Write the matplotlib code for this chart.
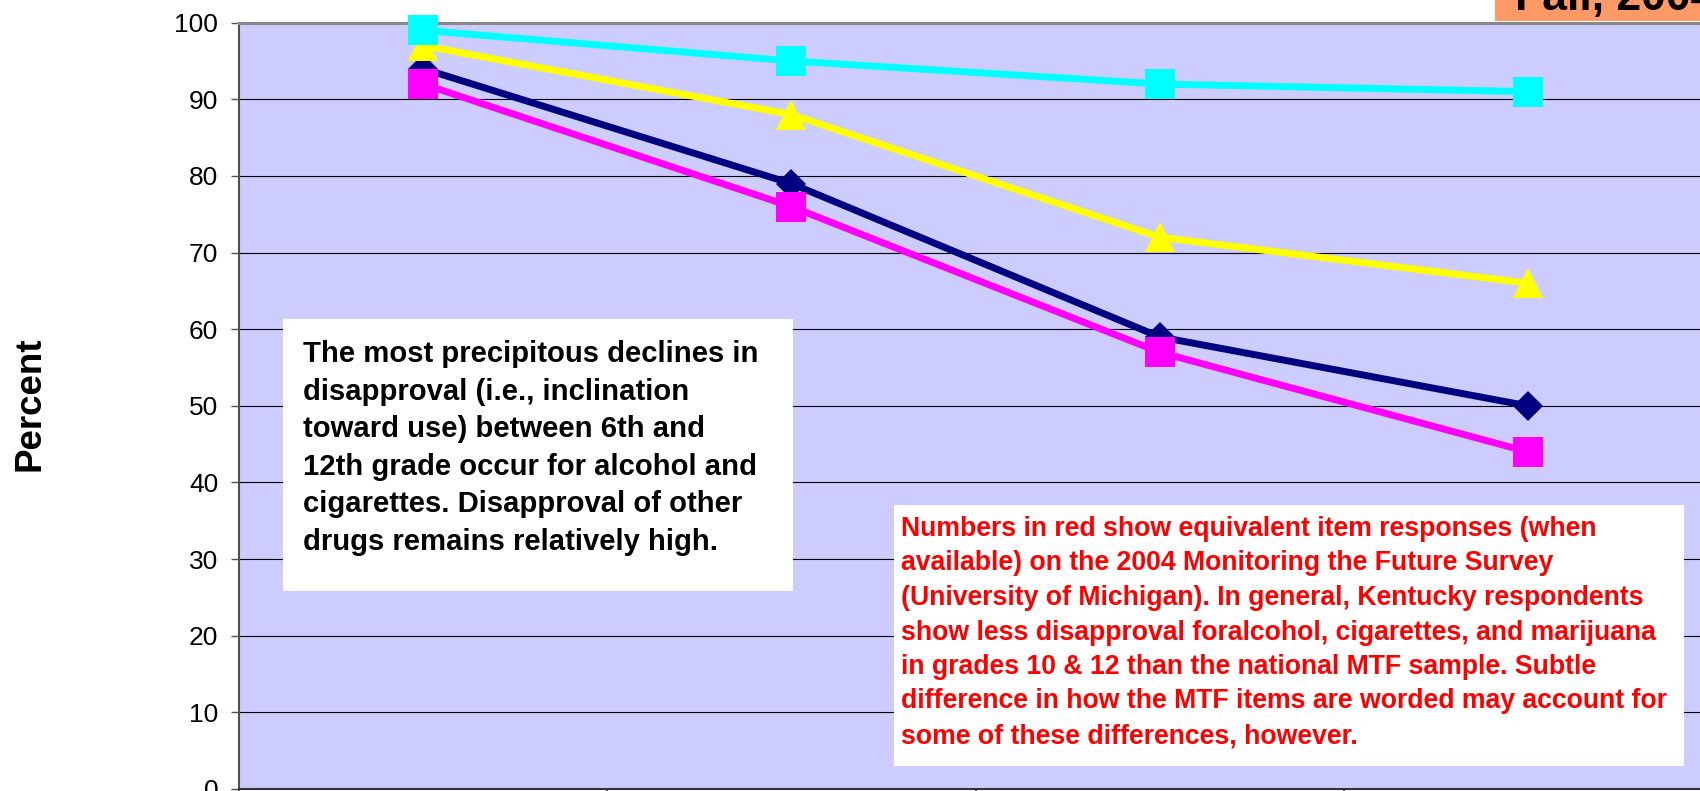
import numpy as np
import matplotlib
matplotlib.use('Agg')
from matplotlib import pyplot as plt
from matplotlib.patches import Rectangle

plt.rcParams['font.family'] = ['Liberation Sans', 'DejaVu Sans']

# disapproval (%) by grade, one list per line of the chart
grades = ['6th', '8th', '10th', '12th']
alcohol = [94, 79, 59, 50]
cigarettes = [92, 76, 57, 44]
marijuana = [97, 88, 72, 66]
other_drugs = [99, 95, 92, 91]
y_ticks = list(range(0, 101, 10))

note_black = ['The most precipitous declines in',
              'disapproval (i.e., inclination',
              'toward use) between 6th and',
              '12th grade occur for alcohol and',
              'cigarettes. Disapproval of other',
              'drugs remains relatively high.']
note_red = ['Numbers in red show equivalent item responses (when',
            'available) on the 2004 Monitoring the Future Survey',
            '(University of Michigan). In general, Kentucky respondents',
            'show less disapproval foralcohol, cigarettes, and marijuana',
            'in grades 10 & 12 than the national MTF sample. Subtle',
            'difference in how the MTF items are worded may account for',
            'some of these differences, however.']

W, H = 1700, 791


def fx(x):
    return x / W


def fy(y):
    return 1 - y / H


fig = plt.figure(figsize=(W / 100, H / 100), dpi=100)
fig.patch.set_facecolor('white')

# plot area runs past the right edge of the slide crop
ax = fig.add_axes([fx(239), fy(789), (1712 - 239) / W, (789 - 22.7) / H])
ax.set_facecolor('#CCCCFF')

styles = [
    (alcohol, '#000080', 'D', 14.8),
    (cigarettes, '#FF00FF', 's', 21),
    (marijuana, '#FFFF00', '^', 21),
    (other_drugs, '#00FFFF', 's', 21),
]
for vals, col, mk, ms in styles:
    ax.plot(grades, vals, color=col, lw=5, marker=mk, ms=ms, mew=0,
            clip_on=False, zorder=3)

# grade labels sit below the crop, so only the boundary ticks show
ax.set_xlim(-0.5, len(grades) - 0.5)
ax.set_xticks(np.arange(len(grades) + 1) - 0.5)
ax.set_xticklabels([])
ax.tick_params(axis='x', length=8, width=1.2, color='#333333')

ax.set_ylim(0, 100)
ax.set_yticks(y_ticks)
ax.set_yticklabels([str(v) for v in y_ticks], fontsize=19)
ax.tick_params(axis='y', length=6, width=1, color='#555555', pad=9)

ax.yaxis.grid(True, color='black', lw=0.8)
ax.set_axisbelow(True)
ax.spines['right'].set_visible(False)
ax.spines['top'].set_color('#888888')
ax.spines['top'].set_linewidth(2.2)
ax.spines['left'].set_color('#505050')
ax.spines['left'].set_linewidth(1.5)
ax.spines['bottom'].set_color('#333333')
ax.spines['bottom'].set_linewidth(1.5)

fig.text(fx(40), fy(404), 'Percent', rotation=90, rotation_mode='anchor',
         ha='center', va='baseline', fontsize=26.5, fontweight='bold')

# annotation boxes
fig.add_artist(Rectangle((fx(283), fy(591)), (793 - 283) / W, (591 - 319) / H,
                         transform=fig.transFigure, facecolor='white',
                         edgecolor='none'))
for i, line in enumerate(note_black):
    fig.text(fx(303), fy(362 + 37.6 * i), line, fontsize=21.1,
             fontweight='bold', va='baseline', color='black')

fig.add_artist(Rectangle((fx(894), fy(766)), (1684 - 894) / W, (766 - 505) / H,
                         transform=fig.transFigure, facecolor='white',
                         edgecolor='none'))
for i, line in enumerate(note_red):
    fig.text(fx(901), fy(536 + 34.5 * i), line, fontsize=19.2,
             fontweight='bold', va='baseline', color='#FF0000')

# title box cut by the top of the crop
fig.add_artist(Rectangle((fx(1495), fy(21)), (W - 1495) / W + 0.01, 21 / H + 0.01,
                         transform=fig.transFigure, facecolor='#FF9966',
                         edgecolor='none'))
fig.text(fx(1515), fy(10), 'Fall, 2004', fontsize=32, fontweight='bold',
         va='baseline', color='black')

fig.savefig('out.png', dpi=100)
